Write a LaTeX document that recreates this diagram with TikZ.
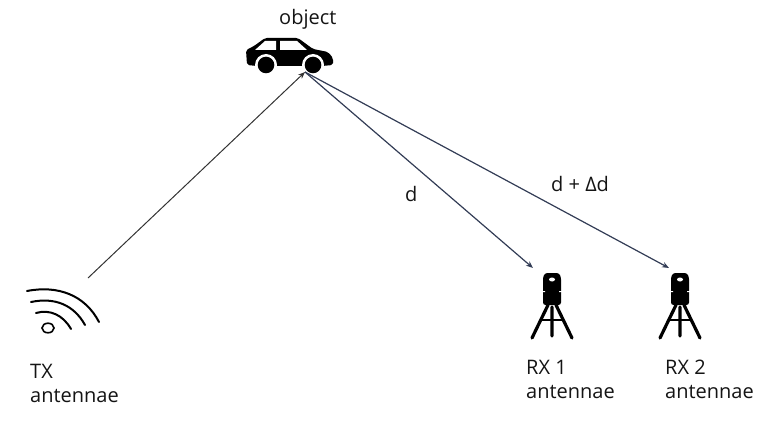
\documentclass[tikz,border=0pt]{standalone}
\usepackage{fontspec}
\setmainfont{Open Sans}
\usetikzlibrary{arrows.meta}
\tikzset{
 lab/.style={font=\fontsize{20}{24}\selectfont,text=black!92,inner sep=0pt,align=left,anchor=north west},
 ray/.style={draw=black!80,line width=1pt},
 rayd/.style={draw={rgb,255:red,50;green,60;blue,85},line width=1.2pt,-{Stealth[length=7pt,width=5.5pt]}},
 sym/.style={draw=black,line width=2pt,line cap=round},
 tripod/.pic={
  \fill[black,rounded corners=2.5pt] (-9,0) -- (-7,-4) -- (7,-4) -- (9,0) -- (9,15) -- (9,18)-- (9,28) -- (-9,28) -- (-9,18) -- (-9,15) -- cycle;
  \fill[white] (-10,14) rectangle (-7,15) (7,14) rectangle (10,15);
  \fill[white] (0,2.5) ellipse (3pt and 2pt);
  \draw[line width=3.2pt,line cap=round] (-4,28) -- (-20,61) (4,28) -- (20,61) (0,30) -- (0,59);
  \draw[line width=2.6pt] (-11,43) -- (11,43);
 }
}
\begin{document}
\begin{tikzpicture}[x=1pt,y=-1pt]
\useasboundingbox (0,0) rectangle (775,422);
% car
\fill[black,rounded corners=2pt] (247,65) -- (246,50) -- (254,46) -- (265,38) -- (298,38) -- (313,49) -- (328,52) -- (333,58) -- (333,65) -- (322,66) -- (304,66) -- (275,66) -- (257,66) -- cycle;
\fill[white] (255,50) -- (265,41) -- (276,41) -- (276,50) -- cycle;
\fill[white] (280,41) -- (297,41) -- (307,50) -- (280,50) -- cycle;
\fill[white] (266,65) circle (11pt) (313,65) circle (11pt);
\fill[black] (266,65) circle (8.3pt) (313,65) circle (8.3pt);
\coordinate (hit) at (305,72);
\coordinate (txout) at (88,278);
\coordinate (rxa) at (533,268);
\coordinate (rxb) at (669,268);
\node[lab] (obj) at (279,9.5) {object};
\node[lab] (dl) at (405,186) {d};
\node[lab] (ddl) at (551,176) {d + Δd};
\node[lab] (tx) at (30,364) {TX\\antennae};
\node[lab] (rx1) at (526,360) {RX 1\\antennae};
\node[lab] (rx2) at (665,360) {RX 2\\antennae};
\draw[ray,-{Stealth[length=7pt,width=5.5pt]}] (txout) -- (hit);
\draw[rayd] (hit) -- (rxa);
\draw[rayd] (hit) -- (rxb);
% antenna
\draw[sym] (27,291) .. controls (58,285) and (85,295) .. (99,322);
\draw[sym] (31,302) .. controls (55,297) and (74,305) .. (85,325);
\draw[sym] (36,313) .. controls (50,309) and (63,315) .. (71,329);
\draw[black,line width=1.6pt] (48,328) ellipse (6pt and 4.8pt);
\pic at (552,277) {tripod};
\pic at (680,277) {tripod};
\end{tikzpicture}
\end{document}
